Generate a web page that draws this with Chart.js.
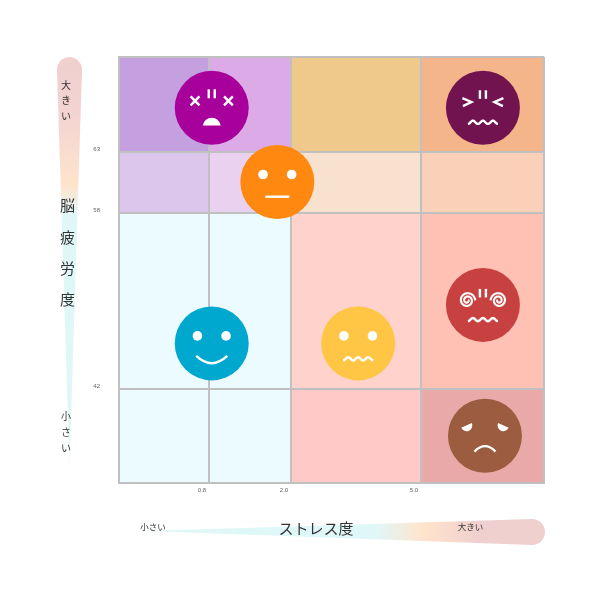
<!DOCTYPE html>
<html><head><meta charset="utf-8">
<style>html,body{margin:0;padding:0;background:#fff}canvas{display:block}</style>
<script src="https://cdn.jsdelivr.net/npm/chart.js@4/dist/chart.umd.js"></script>
</head><body><canvas id="c" width="602" height="602"></canvas>
<script>
// Axis breaks (non-uniform axes in the original)
const xBreaks = [0, 0.8, 2.0, 5.0, 8];
const yBreaks = [34, 42, 58, 63, 71];
const xTickValues = [0.8, 2.0, 5.0];
const yTickValues = [42, 58, 63];
// Heat cells: rows from top to bottom, columns from left to right
const cellColors = [
  ['#c4a0e0','#dcaae6','#efc98c','#f5b58b'],
  ['#dcc6ec','#ead1f0','#f9e1d0','#fad0b9'],
  ['#ecfbff','#ecfbff','#ffd2cb','#ffc1b4'],
  ['#ecfbff','#ecfbff','#ffc9c7','#e9a9a8']
];
// Faces
const faceKinds  = ['cross','flat','squint','spiral','smile','worried','sad'];
const faceX      = [0.84, 1.80, 6.51, 6.51, 0.84, 3.55, 6.56];
const faceY      = [66.7, 60.5, 66.7, 49.6, 46.1, 46.1, 38.0];
const faceColors = ['#a8009a','#ff8811','#71134f','#c84141','#00a8cf','#ffc645','#9c5c3f'];
// Labels
const yAxisTitle = ['脳','疲','労','度'];
const xAxisTitle = 'ストレス度';
const bigLabel = '大きい';
const smallLabel = '小さい';

class PiecewiseScale extends Chart.LinearScale {
  getPixelForValue(v) {
    const b = this.options.breaks, f = this.options.fractions;
    let i = 0;
    while (i < b.length - 2 && v > b[i + 1]) i++;
    const t = (v - b[i]) / (b[i + 1] - b[i]);
    return this.getPixelForDecimal(f[i] + t * (f[i + 1] - f[i]));
  }
}
PiecewiseScale.id = 'piecewise';
PiecewiseScale.defaults = Chart.LinearScale.defaults;
Chart.register(PiecewiseScale);

const WHITE = '#ffffff';
const SW = 2.4;
function line(ctx, pts, w) {
  ctx.beginPath(); pts.forEach((p, i) => i ? ctx.lineTo(p[0], p[1]) : ctx.moveTo(p[0], p[1]));
  ctx.lineWidth = w || SW; ctx.stroke();
}
function eyes(ctx) {
  [-14.3, 14.3].forEach(dx => { ctx.beginPath(); ctx.arc(dx, -7.5, 4.8, 0, Math.PI * 2); ctx.fill(); });
}
function wave(ctx, y, half) {
  ctx.beginPath();
  for (let i = 0; i <= 60; i++) {
    const t = i / 60, x = -half + 2 * half * t;
    const yy = y + 1.6 * Math.cos(t * Math.PI * 6);
    i ? ctx.lineTo(x, yy) : ctx.moveTo(x, yy);
  }
  ctx.lineWidth = SW; ctx.stroke();
}
function sweat(ctx, top, bottom) {
  [-3, 3].forEach(dx => line(ctx, [[dx, top], [dx, bottom]], SW));
}
const faces = {
  smile(ctx) {
    eyes(ctx);
    ctx.beginPath(); ctx.moveTo(-15.5, 12.5); ctx.quadraticCurveTo(0, 27, 15.5, 12.5);
    ctx.lineWidth = SW; ctx.stroke();
  },
  worried(ctx) { eyes(ctx); wave(ctx, 15.5, 15); },
  flat(ctx) { eyes(ctx); line(ctx, [[-12, 14.7], [12, 14.7]], SW); },
  cross(ctx) {
    [-16.7, 16.7].forEach(dx => {
      line(ctx, [[dx - 4.4, -11.5], [dx + 4.4, -2.5]], SW);
      line(ctx, [[dx - 4.4, -2.5], [dx + 4.4, -11.5]], SW);
    });
    sweat(ctx, -18.5, -9.5);
    ctx.beginPath(); ctx.moveTo(-9, 17.7); ctx.quadraticCurveTo(-7, 10, 0, 10); ctx.quadraticCurveTo(7, 10, 9, 17.7);
    ctx.closePath(); ctx.fill();
  },
  squint(ctx) {
    sweat(ctx, -17.5, -9);
    [-1, 1].forEach(s => line(ctx, [[s * 20.5, -9.7], [s * 11.5, -5.8], [s * 20, -1.7]], SW));
    wave(ctx, 14.5, 15);
  },
  spiral(ctx) {
    sweat(ctx, -16, -7.5);
    [-1, 1].forEach(s => {
      ctx.beginPath();
      for (let i = 0; i <= 80; i++) {
        const t = i / 80, r = 8 - 7 * t, a = Math.PI * 1.0 + t * Math.PI * 4.2;
        const px = s * 15.7 + s * r * Math.cos(a), py = -4.5 + r * Math.sin(a);
        i ? ctx.lineTo(px, py) : ctx.moveTo(px, py);
      }
      ctx.lineWidth = 2.1; ctx.stroke();
    });
    wave(ctx, 14.7, 15);
  },
  sad(ctx) {
    [-1, 1].forEach(s => {
      ctx.save(); ctx.translate(s * 18, -9.5); ctx.rotate(s * 0.42);
      ctx.beginPath(); ctx.arc(0, -1, 5.8, 0, Math.PI); ctx.closePath(); ctx.fill();
      ctx.restore();
    });
    ctx.beginPath(); ctx.moveTo(-10.5, 15.8); ctx.quadraticCurveTo(0, 5, 10.5, 15.8);
    ctx.lineWidth = SW; ctx.stroke();
  }
};

function wedgeV(ctx) {
  const cx = 69.5, r = 12.5, topC = 69.5, tip = 467;
  const g = ctx.createLinearGradient(0, 57, 0, tip);
  const f = y => (y - 57) / (tip - 57);
  g.addColorStop(0, '#f0cfcf'); g.addColorStop(f(115), '#f3d4d2'); g.addColorStop(f(185), '#ffe4cc');
  g.addColorStop(f(214), '#e0f7f7'); g.addColorStop(f(440), '#e0f7f7'); g.addColorStop(1, '#f2fbfb');
  ctx.fillStyle = g;
  ctx.beginPath(); ctx.arc(cx, topC, r, Math.PI, 0); ctx.lineTo(cx, tip); ctx.closePath(); ctx.fill();
}
function wedgeH(ctx) {
  const cy = 532, r = 13, capC = 532, tip = 145;
  const g = ctx.createLinearGradient(tip, 0, 545, 0);
  const f = x => (x - tip) / (545 - tip);
  g.addColorStop(0, '#f2fbfb'); g.addColorStop(f(170), '#e0f7f7'); g.addColorStop(f(377), '#e0f7f7');
  g.addColorStop(f(423), '#ffe4cc'); g.addColorStop(f(480), '#f0cfcf'); g.addColorStop(1, '#f0cfcf');
  ctx.fillStyle = g;
  ctx.beginPath(); ctx.arc(capC, cy, r, -Math.PI / 2, Math.PI / 2); ctx.lineTo(tip, cy - 1); ctx.closePath(); ctx.fill();
}

const cellsPlugin = {
  id: 'cells',
  beforeDraw(chart) {
    const { ctx, scales: { x, y } } = chart;
    ctx.save();
    const ys = [...yBreaks].reverse();
    cellColors.forEach((row, r) => row.forEach((c, k) => {
      const x0 = x.getPixelForValue(xBreaks[k]), x1 = x.getPixelForValue(xBreaks[k + 1]);
      const y0 = y.getPixelForValue(ys[r]), y1 = y.getPixelForValue(ys[r + 1]);
      ctx.fillStyle = c; ctx.fillRect(x0, y0, x1 - x0, y1 - y0);
    }));
    ctx.restore();
  }
};
const decorPlugin = {
  id: 'decor',
  afterDraw(chart) {
    const ctx = chart.ctx;
    ctx.save();
    wedgeV(ctx); wedgeH(ctx);
    const font = s => s + 'px "Noto Sans CJK JP"';
    ctx.fillStyle = '#333'; ctx.textAlign = 'center'; ctx.textBaseline = 'middle';
    ctx.font = font(10);
    [...bigLabel].forEach((c, i) => ctx.fillText(c, 66, [85, 100, 116][i]));
    [...smallLabel].forEach((c, i) => ctx.fillText(c, 66, [416, 432, 448][i]));
    ctx.font = font(15);
    yAxisTitle.forEach((c, i) => ctx.fillText(c, 67.5, [205, 237, 268, 299][i]));
    ctx.fillText(xAxisTitle, 316, 528);
    ctx.font = font(8.5);
    ctx.fillText(smallLabel, 153, 527);
    ctx.fillText(bigLabel, 470.5, 527);
    ctx.restore();
  }
};
const facePlugin = {
  id: 'faceFeatures',
  afterDatasetsDraw(chart) {
    const ctx = chart.ctx;
    chart.getDatasetMeta(0).data.forEach((pt, i) => {
      ctx.save();
      ctx.translate(pt.x, pt.y);
      ctx.fillStyle = WHITE; ctx.strokeStyle = WHITE; ctx.lineCap = 'butt'; ctx.lineJoin = 'miter';
      faces[faceKinds[i]](ctx);
      ctx.restore();
    });
  }
};

const GRID = '#c0c0c0';
const setTicks = vals => s => { s.ticks = [s.min, ...vals, s.max].map(value => ({ value })); };

new Chart(document.getElementById('c'), {
  type: 'scatter',
  data: { datasets: [{
    data: faceX.map((x, i) => ({ x, y: faceY[i] })),
    backgroundColor: faceColors, pointRadius: 37, pointHoverRadius: 37,
    pointBorderWidth: 0, clip: false
  }] },
  plugins: [cellsPlugin, facePlugin, decorPlugin],
  options: {
    responsive: false, animation: false, events: [],
    layout: { padding: { top: 57, right: 58, left: 0, bottom: 0 } },
    plugins: { legend: { display: false }, tooltip: { enabled: false } },
    scales: {
      x: {
        type: 'piecewise', min: 0, max: 8,
        breaks: xBreaks, fractions: [0, 90 / 425, 172 / 425, 302 / 425, 1],
        afterBuildTicks: setTicks(xTickValues),
        afterFit: s => { s.height = 119; },
        grid: { color: GRID, lineWidth: 2, drawTicks: false },
        border: { color: GRID, width: 2 },
        ticks: { autoSkip: false, maxRotation: 0, padding: 4, labelOffset: -7, color: '#666',
          font: { size: 6, family: 'Liberation Sans' },
          callback: v => xTickValues.includes(v) ? v.toFixed(1) : '' }
      },
      y: {
        type: 'piecewise', min: 34, max: 71,
        breaks: yBreaks, fractions: [0, 94.5 / 426, 270.5 / 426, 331.5 / 426, 1],
        afterBuildTicks: setTicks(yTickValues),
        afterFit: s => { s.width = 119; },
        grid: { color: GRID, lineWidth: 2, drawTicks: false },
        border: { color: GRID, width: 2 },
        ticks: { autoSkip: false, padding: 19, labelOffset: -2.5, color: '#666',
          font: { size: 6, family: 'Liberation Sans' },
          callback: v => yTickValues.includes(v) ? v : '' }
      }
    }
  }
});
</script></body></html>
